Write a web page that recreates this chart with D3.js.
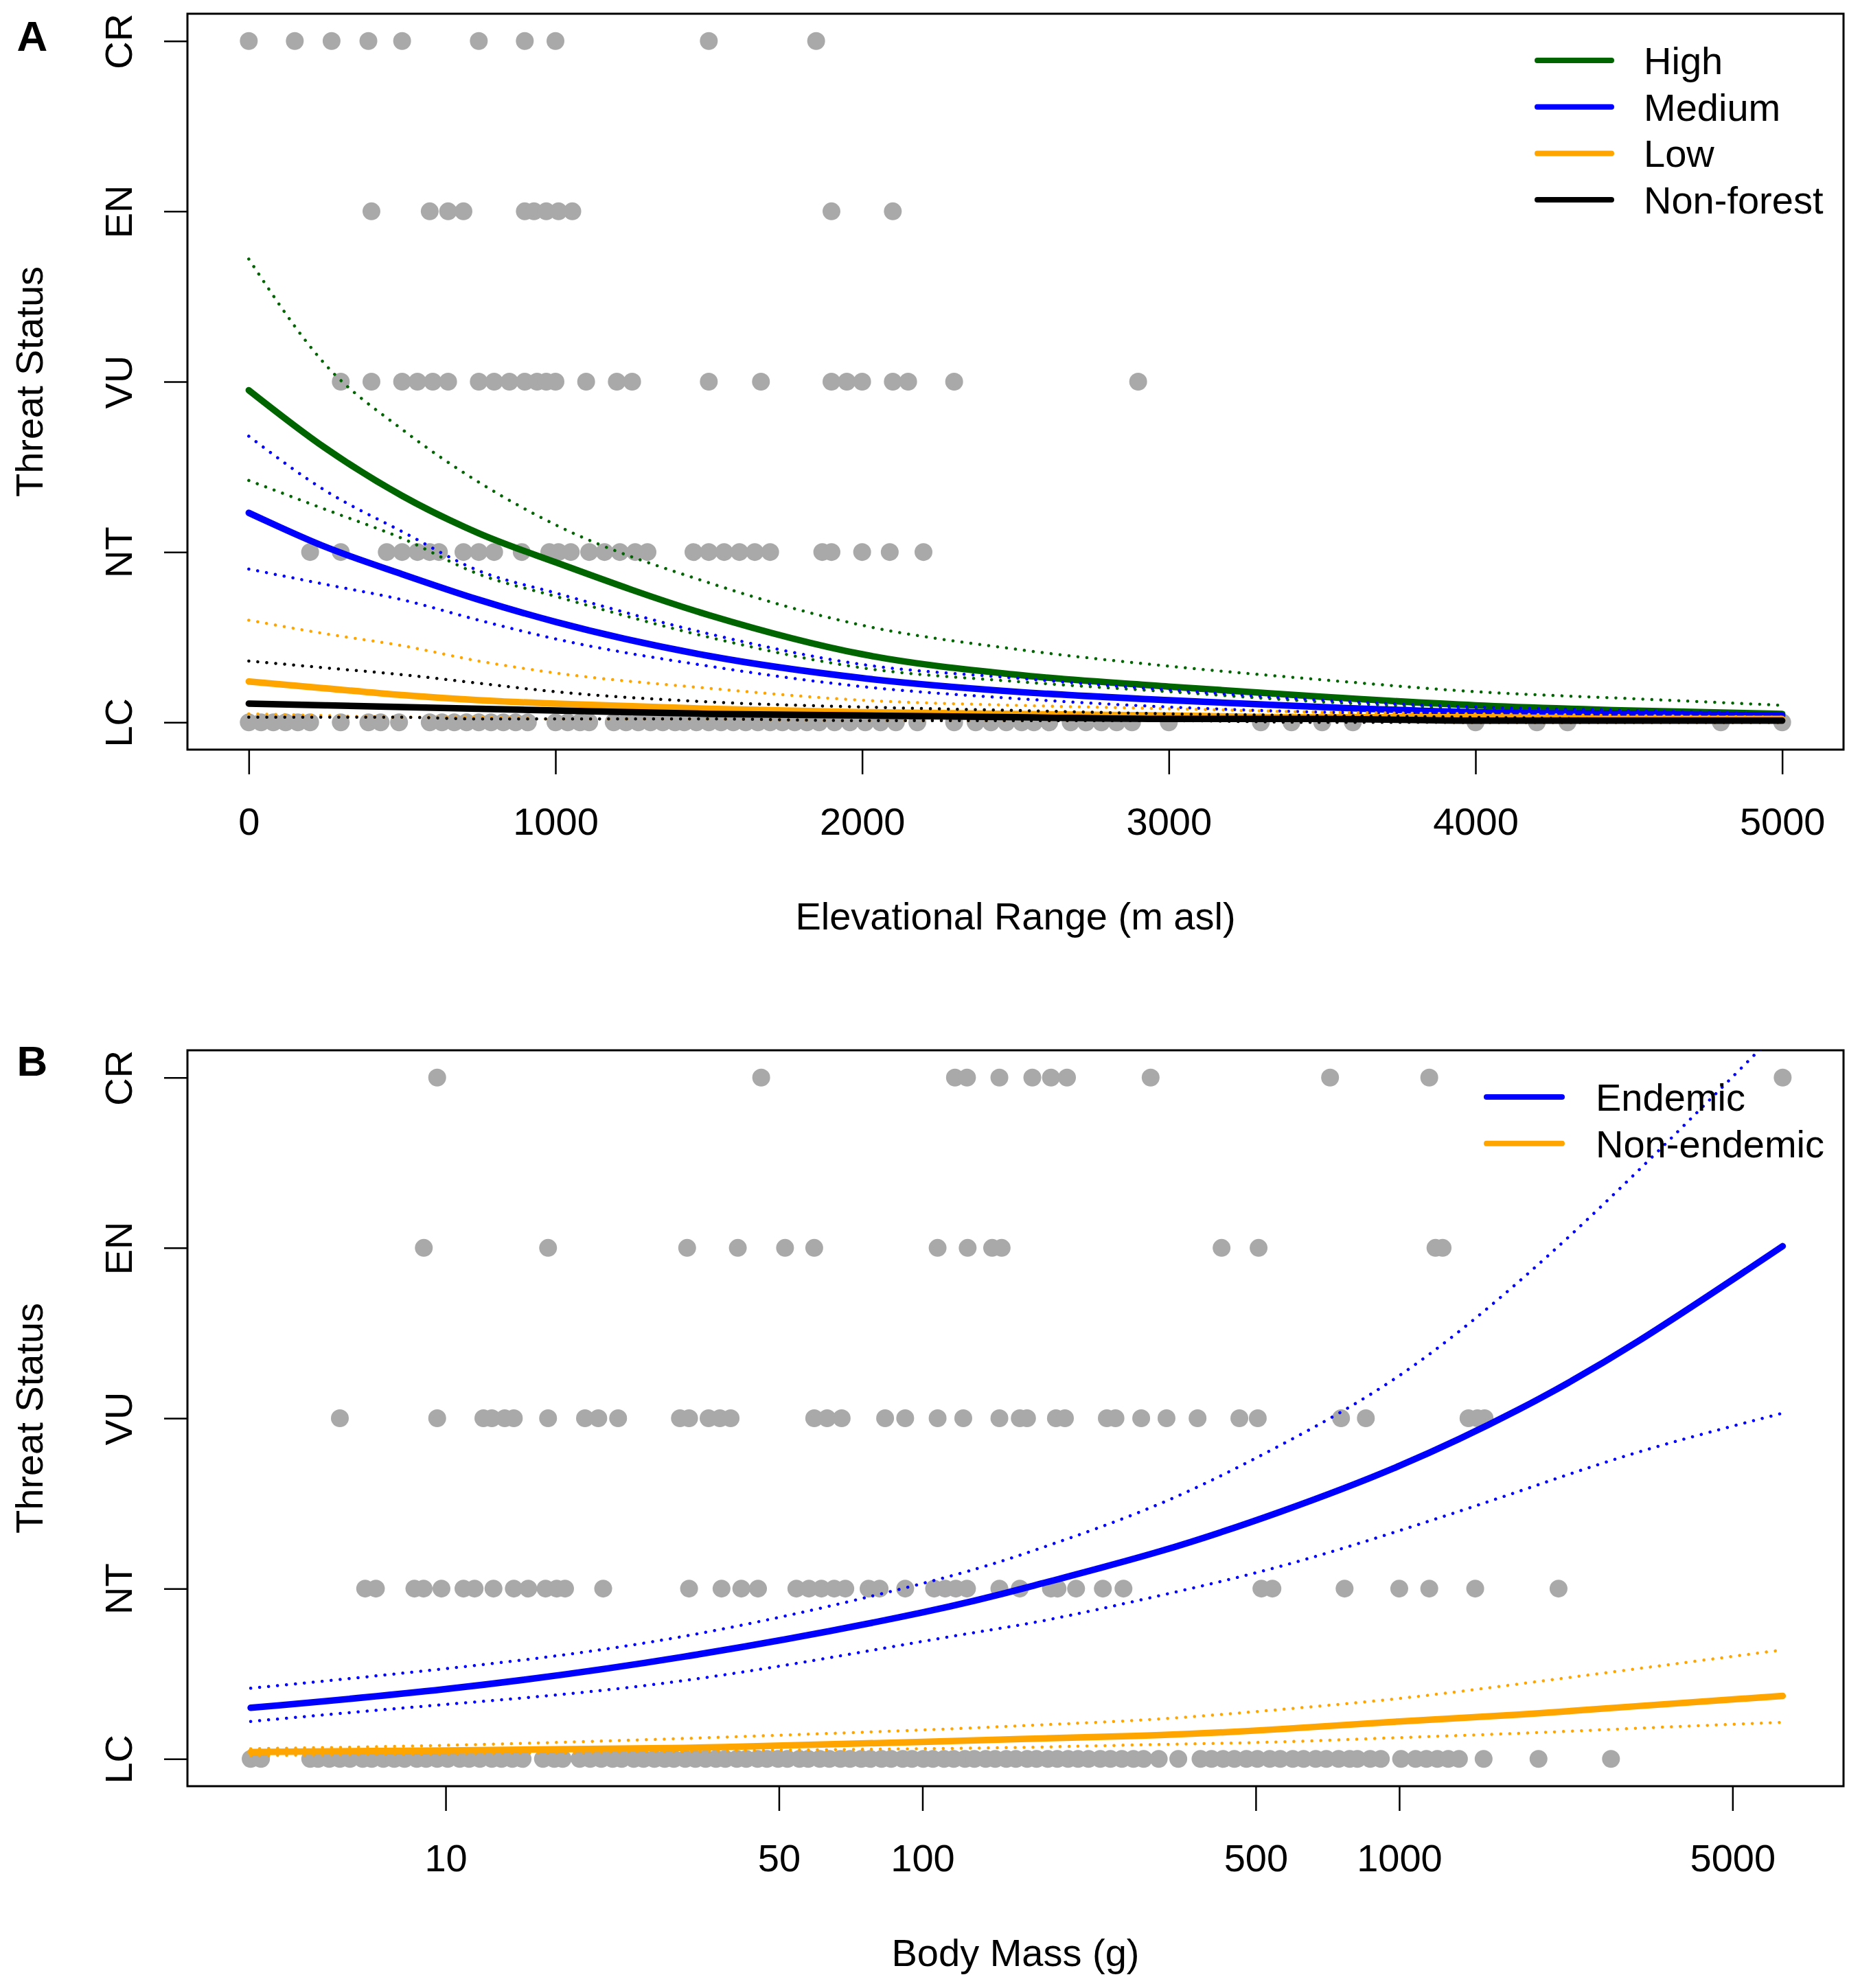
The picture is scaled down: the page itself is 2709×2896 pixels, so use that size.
<!DOCTYPE html>
<html>
<head>
<meta charset="utf-8">
<script src="https://cdn.jsdelivr.net/npm/d3@7"></script>
<style>
  html, body { margin: 0; padding: 0; background: #fff; }
  svg { display: block; }
</style>
</head>
<body>
<div id="chart"></div>
<script>
// ═══════════════════════════════════════════════════════════════════
// Threat status vs elevational range (A) and body mass (B)
// ═══════════════════════════════════════════════════════════════════

// ── Categories / ticks ─────────────────────────────────────────────
const STATUS = ['LC', 'NT', 'VU', 'EN', 'CR'];          // y = 1..5
const elevTicks = [0, 1000, 2000, 3000, 4000, 5000];
const massTicks = [10, 50, 100, 500, 1000, 5000];

// ── Panel A : observed species (elevational range, m) ──────────────
const elevCR = [0, 150, 270, 390, 500, 750, 900, 1000, 1500, 1850];
const elevEN = [400, 590, 650, 700, 900, 930, 970, 1010, 1055, 1900, 2100];
const elevVU = [300, 400, 500, 550, 600, 650, 750, 800, 850, 900, 940, 970, 1000,
  1100, 1200, 1250, 1500, 1670, 1900, 1950, 2000, 2100, 2150, 2300, 2900];
const elevNT = [200, 300, 450, 500, 550, 590, 620, 700, 750, 800, 890, 980, 1010,
  1050, 1110, 1160, 1210, 1260, 1300, 1450, 1500, 1550, 1600, 1650, 1700, 1870,
  1900, 2000, 2090, 2200];
const elevLC = [0, 40, 80, 120, 160, 200, 300, 390, 430, 490, 590, 630, 670, 710,
  750, 790, 830, 870, 910, 1000, 1040, 1080, 1110, 1190, 1230, 1270, 1310, 1350,
  1390, 1420, 1460, 1500, 1540, 1580, 1620, 1660, 1700, 1740, 1780, 1820, 1860,
  1910, 1960, 2010, 2060, 2110, 2180, 2300, 2370, 2420, 2470, 2520, 2560, 2610,
  2680, 2730, 2780, 2830, 2880, 3000, 3300, 3400, 3500, 3600, 4000, 4200, 4300,
  4800, 5000];

// ── Panel A : fitted curves (read at these elevations) ─────────────
const elevGrid   = [0, 250, 500, 750, 1000, 1500, 2000, 2500, 3000, 3500, 4000, 4500, 5000];
const highFit    = [2.95, 2.61, 2.33, 2.11, 1.94, 1.63, 1.40, 1.28, 1.21, 1.15, 1.10, 1.07, 1.05];
const highUpper  = [3.72, 3.10, 2.72, 2.41, 2.16, 1.82, 1.57, 1.43, 1.33, 1.25, 1.18, 1.14, 1.10];
const highLower  = [2.42, 2.25, 2.08, 1.87, 1.74, 1.50, 1.32, 1.24, 1.18, 1.12, 1.08, 1.06, 1.05];
const medFit     = [2.23, 2.03, 1.87, 1.72, 1.59, 1.39, 1.26, 1.18, 1.13, 1.09, 1.06, 1.05, 1.04];
const medUpper   = [2.68, 2.36, 2.12, 1.89, 1.76, 1.52, 1.34, 1.26, 1.19, 1.13, 1.09, 1.07, 1.05];
const medLower   = [1.90, 1.81, 1.72, 1.60, 1.49, 1.33, 1.21, 1.14, 1.09, 1.06, 1.05, 1.04, 1.03];
const lowFit     = [1.24, 1.20, 1.16, 1.13, 1.11, 1.08, 1.06, 1.05, 1.04, 1.03, 1.03, 1.02, 1.02];
const lowUpper   = [1.60, 1.52, 1.45, 1.36, 1.29, 1.20, 1.13, 1.10, 1.08, 1.06, 1.05, 1.04, 1.03];
const lowLower   = [1.05, 1.04, 1.03, 1.03, 1.02, 1.02, 1.01, 1.01, 1.01, 1.01, 1.00, 1.00, 1.00];
const nonfFit    = [1.11, 1.10, 1.09, 1.08, 1.07, 1.05, 1.04, 1.03, 1.02, 1.02, 1.01, 1.01, 1.01];
const nonfUpper  = [1.36, 1.32, 1.28, 1.23, 1.18, 1.12, 1.09, 1.07, 1.05, 1.04, 1.03, 1.02, 1.02];
const nonfLower  = [1.03, 1.03, 1.03, 1.02, 1.02, 1.02, 1.01, 1.01, 1.01, 1.00, 1.00, 1.00, 1.00];

// ── Panel B : observed species (body mass, g) ──────────────────────
const massCR = [9.6, 45.9, 117, 124, 145, 170, 186, 201, 301, 716, 1156, 6370];
const massEN = [9.0, 16.4, 32.1, 41.0, 51.5, 59.3, 107.6, 124.4, 140, 146.6, 424, 507,
  1191, 1233];
const massVU = [6.0, 9.6, 12.0, 12.5, 13.3, 13.9, 16.4, 19.6, 20.9, 23.0, 31.0, 32.4,
  35.6, 37.6, 39.6, 59.3, 63.1, 67.7, 83.5, 92.0, 107.6, 121.8, 145, 160, 165.7,
  190.5, 199, 243.6, 254, 287.6, 325, 377.6, 462, 505, 755, 851, 1397, 1459, 1510];
const massNT = [6.78, 7.14, 8.6, 8.99, 9.8, 10.9, 11.5, 12.6, 13.9, 14.9, 16.2, 17.1,
  17.8, 21.4, 32.4, 37.9, 41.7, 45.2, 54.4, 57.8, 61.4, 65.3, 68.9, 77.1, 81.3, 92,
  105.8, 111.6, 117.5, 124, 145, 160, 186, 192, 210, 239, 264, 514, 542, 768, 1000,
  1156, 1443, 2158];
const massLC = [3.9, 4.1, 5.2, 5.4, 5.7, 6.0, 6.3, 6.7, 7.0, 7.4, 7.8, 8.2, 8.7, 9.1,
  9.6, 10.1, 10.7, 11.2, 11.8, 12.5, 13.1, 13.8, 14.5, 16.0, 16.9, 17.6, 19.1, 20.1,
  21.2, 22.4, 23.4, 24.8, 26.0, 27.4, 28.8, 30.1, 31.8, 33.4, 35.1, 36.9, 38.6, 40.8,
  42.7, 45.1, 47.2, 49.8, 52.1, 55.2, 57.6, 60.9, 63.8, 67.3, 70.5, 74.4, 77.8, 82.1,
  86.0, 90.9, 95.1, 100.4, 105.2, 111, 116.3, 122.8, 128.5, 135.7, 142.1, 149.9,
  157.0, 165.8, 173.5, 183.2, 191.8, 202, 212, 223, 236, 248, 262, 277, 291, 313,
  344, 383, 404, 427, 451, 478, 504, 535, 563, 598, 630, 668, 703, 746, 787, 817,
  869, 915, 1009, 1082, 1140, 1202, 1267, 1334, 1503, 1959, 2780];

// ── Panel B : fitted curves (read at these masses) ─────────────────
const massGrid    = [3.9, 10, 31.6, 100, 178, 316, 562, 1000, 1778, 3162, 6370];
const endFit      = [1.30, 1.41, 1.60, 1.86, 2.03, 2.22, 2.45, 2.72, 3.05, 3.45, 4.01];
const endUpper    = [1.415, 1.53, 1.72, 2.03, 2.24, 2.50, 2.84, 3.25, 3.80, 4.45, 5.30];
const endLower    = [1.22, 1.32, 1.46, 1.69, 1.81, 1.96, 2.13, 2.34, 2.57, 2.80, 3.03];
const nonEndFit   = [1.04, 1.05, 1.065, 1.10, 1.12, 1.14, 1.175, 1.22, 1.26, 1.31, 1.37];
const nonEndUpper = [1.06, 1.08, 1.12, 1.17, 1.20, 1.235, 1.29, 1.355, 1.44, 1.53, 1.64];
const nonEndLower = [1.02, 1.03, 1.045, 1.06, 1.07, 1.085, 1.10, 1.125, 1.15, 1.18, 1.215];

// ── Layout / style ─────────────────────────────────────────────────
const W = 2709, H = 2896;
const FONT = '"Liberation Sans", Arial, Helvetica, sans-serif';
const FS = 56;
const COL = {
  high: '#006400', medium: '#0000ff', low: '#ffa500', nonforest: '#000000',
  point: '#a9a9a9', ink: '#000000'
};
const STK = { frame: 3, tick: 2.5, fit: 9.5, ci: 4.5, legend: 8 };
const LEFT = 273, RIGHT = 2685;
const PANELS = {
  A: { top: 20, bottom: 1092 },
  B: { top: 1530, bottom: 2602 }
};

const svg = d3.select('#chart')
  .append('svg')
  .attr('width', W).attr('height', H)
  .attr('viewBox', `0 0 ${W} ${H}`);
svg.append('rect').attr('width', W).attr('height', H).attr('fill', '#fff');

// Texte standard
function txt(sel, x, y, s, opts = {}) {
  return sel.append('text')
    .attr('x', x).attr('y', y)
    .attr('text-anchor', opts.anchor || 'start')
    .attr('font-family', FONT)
    .attr('font-size', opts.size || FS)
    .attr('font-weight', opts.bold ? 700 : 400)
    .attr('fill', COL.ink)
    .text(s);
}

// Cadre, axes, titres d'un panneau
function drawPanel(key, x, y, ticks, tickFmt, xTitle) {
  const p = PANELS[key];
  const g = svg.append('g');

  // x axis
  const ax = g.append('g')
    .attr('transform', `translate(0,${p.bottom})`)
    .call(d3.axisBottom(x).tickValues(ticks).tickSize(36).tickPadding(48)
      .tickFormat(tickFmt));
  ax.select('.domain').remove();
  ax.selectAll('line').attr('stroke', COL.ink).attr('stroke-width', STK.tick);
  ax.selectAll('text').attr('font-family', FONT).attr('font-size', FS).attr('fill', COL.ink);

  // y axis, rotated labels
  const ay = g.append('g')
    .attr('transform', `translate(${LEFT},0)`)
    .call(d3.axisLeft(y).tickValues([1, 2, 3, 4, 5]).tickSize(34)
      .tickFormat(d => STATUS[d - 1]));
  ay.select('.domain').remove();
  ay.selectAll('line').attr('stroke', COL.ink).attr('stroke-width', STK.tick);
  ay.selectAll('text')
    .attr('x', null).attr('dy', null)
    .attr('text-anchor', 'middle')
    .attr('transform', `translate(${192 - LEFT},0) rotate(-90)`)
    .attr('font-family', FONT).attr('font-size', FS).attr('fill', COL.ink);

  // frame
  g.append('rect')
    .attr('x', LEFT).attr('y', p.top)
    .attr('width', RIGHT - LEFT).attr('height', p.bottom - p.top)
    .attr('fill', 'none').attr('stroke', COL.ink).attr('stroke-width', STK.frame);

  // titles
  txt(g, (LEFT + RIGHT) / 2, p.bottom + 262, xTitle, { anchor: 'middle' });
  txt(g, 0, 0, 'Threat Status', { anchor: 'middle' })
    .attr('transform', `translate(62,${(p.top + p.bottom) / 2}) rotate(-90)`);
  txt(g, 47, p.top + 54 + (key === 'B' ? -17 : 0), key, { anchor: 'middle', bold: true, size: 62 });

  // clip for the curves
  svg.append('clipPath').attr('id', 'clip' + key)
    .append('rect')
    .attr('x', LEFT).attr('y', p.top)
    .attr('width', RIGHT - LEFT).attr('height', p.bottom - p.top);
}

// Points gris d'une rangée de statut
function drawPoints(values, level, x, y) {
  svg.append('g').selectAll('circle')
    .data(values)
    .join('circle')
    .attr('cx', d => x(d))
    .attr('cy', y(level))
    .attr('r', 13)
    .attr('fill', COL.point);
}

// Courbe ajustée (pleine ou pointillée)
function drawCurve(key, grid, vals, x, y, color, dotted, curve) {
  const line = d3.line()
    .x(d => x(d[0]))
    .y(d => y(d[1]))
    .curve(curve || d3.curveMonotoneX);
  svg.append('path')
    .datum(d3.zip(grid, vals))
    .attr('clip-path', `url(#clip${key})`)
    .attr('d', line)
    .attr('fill', 'none')
    .attr('stroke', color)
    .attr('stroke-width', dotted ? STK.ci : STK.fit)
    .attr('stroke-linecap', 'round')
    .attr('stroke-dasharray', dotted ? '0.1 13' : null);
}

// Légende sans cadre, en haut à droite
function drawLegend(items, top, x1, x2, tx) {
  const g = svg.append('g');
  items.forEach((it, i) => {
    const yy = top + 68 + i * 67.7;
    g.append('line')
      .attr('x1', x1).attr('x2', x2)
      .attr('y1', yy).attr('y2', yy)
      .attr('stroke', it.color).attr('stroke-width', STK.legend)
      .attr('stroke-linecap', 'round');
    txt(g, tx, yy + 20, it.label);
  });
}

// ═══ Panel A ═══════════════════════════════════════════════════════
const xA = d3.scaleLinear().domain([-200, 5200]).range([LEFT, RIGHT]);
const yA = d3.scaleLinear().domain([0.84, 5.16]).range([PANELS.A.bottom, PANELS.A.top]);
drawPanel('A', xA, yA, elevTicks, d3.format('d'), 'Elevational Range (m asl)');

[[elevLC, 1], [elevNT, 2], [elevVU, 3], [elevEN, 4], [elevCR, 5]]
  .forEach(([vals, lvl]) => drawPoints(vals, lvl, xA, yA));

[
  [COL.high, highFit, highUpper, highLower],
  [COL.medium, medFit, medUpper, medLower],
  [COL.low, lowFit, lowUpper, lowLower],
  [COL.nonforest, nonfFit, nonfUpper, nonfLower]
].forEach(([c, fit, up, lo]) => {
  drawCurve('A', elevGrid, fit, xA, yA, c, false);
  drawCurve('A', elevGrid, up, xA, yA, c, true);
  drawCurve('A', elevGrid, lo, xA, yA, c, true);
});

drawLegend([
  { label: 'High', color: COL.high },
  { label: 'Medium', color: COL.medium },
  { label: 'Low', color: COL.low },
  { label: 'Non-forest', color: COL.nonforest }
], PANELS.A.top, 2239, 2347, 2394);

// ═══ Panel B ═══════════════════════════════════════════════════════
const xB = d3.scaleLog().domain([2.874, 8546]).range([LEFT, RIGHT]);
const yB = d3.scaleLinear().domain([0.84, 5.16]).range([PANELS.B.bottom, PANELS.B.top]);
drawPanel('B', xB, yB, massTicks, d3.format('d'), 'Body Mass (g)');

[[massLC, 1], [massNT, 2], [massVU, 3], [massEN, 4], [massCR, 5]]
  .forEach(([vals, lvl]) => drawPoints(vals, lvl, xB, yB));

[
  [COL.medium, endFit, endUpper, endLower],
  [COL.low, nonEndFit, nonEndUpper, nonEndLower]
].forEach(([c, fit, up, lo]) => {
  drawCurve('B', massGrid, fit, xB, yB, c, false, d3.curveNatural);
  drawCurve('B', massGrid, up, xB, yB, c, true, d3.curveNatural);
  drawCurve('B', massGrid, lo, xB, yB, c, true, d3.curveNatural);
});

drawLegend([
  { label: 'Endemic', color: COL.medium },
  { label: 'Non-endemic', color: COL.low }
], PANELS.B.top, 2165, 2275, 2324);
</script>
</body>
</html>
